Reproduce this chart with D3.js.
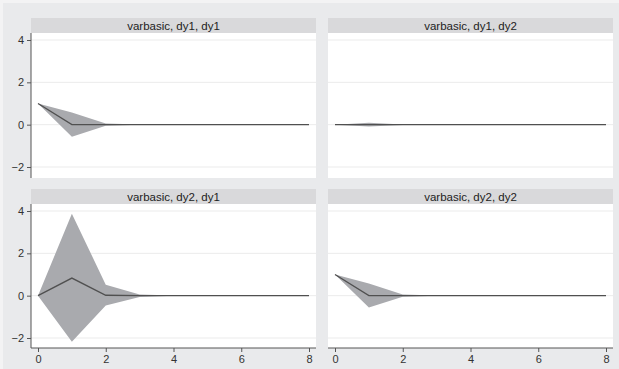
<!DOCTYPE html>
<html><head><meta charset="utf-8">
<script src="https://cdn.jsdelivr.net/npm/d3@7"></script>
<style>html,body{margin:0;padding:0;background:#f3f3f4;}svg{display:block;}</style>
</head><body>
<script>
const steps = [0,1,2,3,4,5,6,7,8];
const panelTitles = ["varbasic, dy1, dy1","varbasic, dy1, dy2","varbasic, dy2, dy1","varbasic, dy2, dy2"];
const irf11 = [1, 0.0, 0.0, 0, 0, 0, 0, 0, 0];
const lo11  = [1, -0.57, -0.05, -0.005, 0, 0, 0, 0, 0];
const hi11  = [1, 0.57, 0.05, 0.005, 0, 0, 0, 0, 0];
const irf12 = [0, 0, 0, 0, 0, 0, 0, 0, 0];
const lo12  = [0, -0.09, -0.01, 0, 0, 0, 0, 0, 0];
const hi12  = [0, 0.09, 0.01, 0, 0, 0, 0, 0, 0];
const irf21 = [0, 0.83, 0.02, 0, 0, 0, 0, 0, 0];
const lo21  = [0, -2.18, -0.47, -0.06, -0.005, 0, 0, 0, 0];
const hi21  = [0, 3.87, 0.52, 0.06, 0.005, 0, 0, 0, 0];
const irf22 = [1, 0.0, 0.0, 0, 0, 0, 0, 0, 0];
const lo22  = [1, -0.56, -0.05, -0.005, 0, 0, 0, 0, 0];
const hi22  = [1, 0.57, 0.05, 0.005, 0, 0, 0, 0, 0];
const yTicks = [-2, 0, 2, 4];
const xTicks = [0, 2, 4, 6, 8];

const W = 619, H = 369;
const svg = d3.select("body").append("svg").attr("width", W).attr("height", H);
svg.append("rect").attr("x",3).attr("y",3).attr("width",W-3).attr("height",H-3).attr("fill","#e9eaec");

const series = [[irf11,lo11,hi11],[irf12,lo12,hi12],[irf21,lo21,hi21],[irf22,lo22,hi22]];
const cols = [[31,316],[328,613]];
const rows = [{s:18,p0:33,p1:178,y4:40,yn2:167},{s:189,p0:204,p1:348,y4:211,yn2:338}];
const font = "'Liberation Sans', Arial, sans-serif";

series.forEach((ser, i) => {
  const c = cols[i % 2], r = rows[Math.floor(i / 2)];
  const g = svg.append("g");
  const x = d3.scaleLinear().domain([0, 8]).range([c[0] + 7, c[1] - 7]);
  const y = d3.scaleLinear().domain([-2, 4]).range([r.yn2, r.y4]);
  // strip
  g.append("rect").attr("x", c[0]).attr("y", r.s).attr("width", c[1]-c[0]).attr("height", r.p0 - r.s).attr("fill", "#d9d9db");
  g.append("text").attr("x", (c[0]+c[1])/2).attr("y", r.s + 11.5).attr("text-anchor","middle")
    .attr("font-family", font).attr("font-size", 11.5).attr("fill", "#222").text(panelTitles[i]);
  // plot area
  g.append("rect").attr("x", c[0]).attr("y", r.p0).attr("width", c[1]-c[0]).attr("height", r.p1 - r.p0).attr("fill", "#ffffff");
  // gridlines
  g.selectAll(".grid").data(yTicks).enter().append("line")
    .attr("x1", c[0]).attr("x2", c[1]).attr("y1", d => y(d)).attr("y2", d => y(d))
    .attr("stroke", "#ebebeb").attr("stroke-width", 1);
  // band
  const [irf, lo, hi] = ser;
  const area = d3.area().x((d, k) => x(steps[k])).y0((d, k) => y(lo[k])).y1((d, k) => y(hi[k]));
  g.append("path").datum(steps).attr("d", area).attr("fill", "#a9aaae");
  const line = d3.line().x((d, k) => x(steps[k])).y((d, k) => y(irf[k]));
  g.append("path").datum(steps).attr("d", line).attr("fill", "none").attr("stroke", "#505050").attr("stroke-width", 1.3);
  // y axis on left column
  if (i % 2 === 0) {
    const ax = g.append("g").attr("transform", `translate(${c[0]},0)`)
      .call(d3.axisLeft(y).tickValues(yTicks).tickSize(4).tickPadding(3).tickFormat(d3.format("d")));
    ax.select(".domain").attr("d", `M0,${r.p0}V${r.p1}`).attr("stroke", "#555");
    ax.selectAll(".tick line").attr("stroke", "#555");
    ax.selectAll("text").attr("font-family", font).attr("font-size", 11).attr("fill", "#333");
  }
  // x axis on bottom row
  if (i >= 2) {
    const ax = g.append("g").attr("transform", `translate(0,${r.p1})`)
      .call(d3.axisBottom(x).tickValues(xTicks).tickSize(4).tickPadding(3).tickFormat(d3.format("d")));
    ax.select(".domain").attr("d", `M${c[0]},0H${c[1]}`).attr("stroke", "#555");
    ax.selectAll(".tick line").attr("stroke", "#555");
    ax.selectAll("text").attr("font-family", font).attr("font-size", 11).attr("fill", "#333");
  }
});
</script>
</body></html>
